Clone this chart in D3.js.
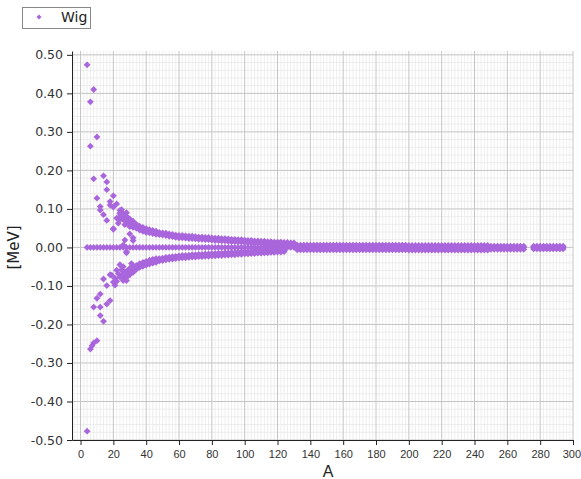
<!DOCTYPE html>
<html>
<head>
<meta charset="utf-8">
<script src="https://cdn.jsdelivr.net/npm/d3@7"></script>
<style>
  body { margin: 0; background: #fff; }
  svg { display: block; }
</style>
</head>
<body>
<div id="chart"></div>
<script>
// ---- data ----
const seriesName = 'Wig';

// scattered light nuclei
const outA = [4, 8, 6, 10, 6, 8, 14, 16, 16, 10, 12, 14, 16, 18, 18, 20, 22, 20, 22, 24, 26, 23, 27, 29, 30, 20, 25, 28, 32, 32, 26, 30, 27, 20, 12, 24,
              4, 6, 7, 8, 10, 14, 12, 8, 12, 10, 12, 16, 18, 14, 16, 18, 21, 22, 24, 27, 28, 30, 21, 19, 28, 24, 26, 22, 20, 31, 28, 23, 25];
const outV = [0.474, 0.41, 0.378, 0.287, 0.263, 0.178, 0.186, 0.170, 0.150, 0.128, 0.106, 0.085, 0.070, 0.119, 0.110, 0.134, 0.113, 0.105, 0.076, 0.089, 0.085, 0.063, 0.059, 0.076, 0.054, 0.047, 0.098, 0.090, 0.025, 0.018, 0.006, 0.035, 0.019, 0.049, 0.097, 0.072,
              -0.477, -0.264, -0.255, -0.248, -0.242, -0.192, -0.177, -0.155, -0.155, -0.132, -0.121, -0.147, -0.138, -0.082, -0.099, -0.071, -0.080, -0.088, -0.077, -0.064, -0.086, -0.055, -0.098, -0.072, -0.014, -0.045, -0.050, -0.059, -0.090, -0.042, -0.011, -0.068, -0.058];

// nuclei sitting on 0.00
const zeroA = [4, 6, 8, 10, 12, 14, 16, 18, 20, 22, 24, 26, 28, 30, 32, 34, 36, 38, 40, 42, 44, 46, 48, 50, 52, 54, 56, 58, 60, 62,
               64, 66, 68, 70, 72, 74, 76, 78, 80, 82, 84, 86, 88, 90, 92, 94, 96, 98, 100, 102, 104, 106, 108, 110, 112, 114, 116, 118, 120, 122,
               124, 126, 128, 130, 132, 134, 136, 138, 140, 142, 144, 146, 148, 150, 152, 154, 156, 158, 160, 162, 164, 166, 168, 170, 172, 174, 176, 178, 180, 182,
               184, 186, 188, 190, 192, 194, 196, 198, 200, 202, 204, 206, 208, 210, 212, 214, 216, 218, 220, 222, 224, 226, 228, 230, 232, 234, 236, 238, 240, 242,
               244, 246, 248, 250, 252, 254, 256, 258, 260, 262, 264, 266, 268, 270, 276, 278, 280, 282, 284, 286, 288, 290, 292, 294];
const zeroLevel = 0;

// upper branch: A, outer edge, middle, inner edge
const upA   = [24, 26, 28, 30, 32, 34, 36, 38, 40, 42, 44, 46, 48, 50, 52, 54, 56, 58, 60, 62, 64, 66, 68, 70, 72, 74, 76, 78, 80, 82, 84, 86, 88, 90, 92, 94, 96, 98, 100, 102, 104, 106, 108, 110, 112, 114, 116, 118, 120, 122, 124, 126, 128, 130];
const upHi  = [0.096, 0.088, 0.080, 0.074, 0.068, 0.060, 0.055, 0.052, 0.049, 0.046, 0.044, 0.042, 0.039, 0.038, 0.037, 0.035, 0.034, 0.032, 0.031, 0.031, 0.030, 0.029, 0.029, 0.028, 0.027, 0.027, 0.026, 0.026, 0.025, 0.024, 0.024, 0.023, 0.023, 0.022, 0.021, 0.021, 0.020, 0.020, 0.019, 0.018, 0.018, 0.017, 0.017, 0.016, 0.016, 0.015, 0.015, 0.014, 0.014, 0.014, 0.013, 0.013, 0.012, 0.012];
const upMid = [0.088, 0.080, 0.072, 0.066, 0.060, 0.055, 0.050, 0.047, 0.044, 0.042, 0.040, 0.038, 0.036, 0.035, 0.034, 0.032, 0.031, 0.029, 0.028, 0.028, 0.027, 0.026, 0.026, 0.025, 0.024, 0.024, 0.023, 0.023, 0.022, 0.021, 0.021, 0.020, 0.020, 0.019, 0.018, 0.018, 0.017, 0.017, 0.016, 0.015, 0.015, 0.014, 0.014, 0.013, 0.013, 0.012, 0.012, 0.011, 0.011, 0.011, 0.010, 0.010, 0.009, 0.009];
const upLo  = [0.080, 0.072, 0.064, 0.058, 0.052, 0.050, 0.045, 0.042, 0.039, 0.038, 0.036, 0.034, 0.033, 0.032, 0.031, 0.029, 0.028, 0.026, 0.025, 0.025, 0.024, 0.023, 0.023, 0.022, 0.021, 0.021, 0.020, 0.020, 0.019, 0.018, 0.018, 0.017, 0.017, 0.016, 0.015, 0.015, 0.014, 0.014, 0.013, 0.012, 0.012, 0.011, 0.011, 0.010, 0.010, 0.009, 0.009, 0.008, 0.008, 0.008, 0.007, 0.007, 0.006, 0.006];

// lower branch: A, inner edge, middle, outer edge
const dnA   = [26, 28, 30, 32, 34, 36, 38, 40, 42, 44, 46, 48, 50, 52, 54, 56, 58, 60, 62, 64, 66, 68, 70, 72, 74, 76, 78, 80, 82, 84, 86, 88, 90, 92, 94, 96, 98, 100, 102, 104, 106, 108, 110, 112, 114, 116, 118, 120, 122, 124];
const dnHi  = [-0.070, -0.062, -0.055, -0.049, -0.047, -0.042, -0.039, -0.036, -0.033, -0.031, -0.029, -0.029, -0.028, -0.026, -0.025, -0.024, -0.023, -0.022, -0.021, -0.021, -0.020, -0.019, -0.019, -0.018, -0.018, -0.017, -0.017, -0.016, -0.016, -0.015, -0.015, -0.014, -0.014, -0.013, -0.013, -0.012, -0.012, -0.011, -0.011, -0.010, -0.010, -0.009, -0.009, -0.008, -0.008, -0.007, -0.007, -0.006, -0.006, -0.005];
const dnMid = [-0.078, -0.070, -0.063, -0.057, -0.052, -0.047, -0.044, -0.041, -0.038, -0.036, -0.034, -0.032, -0.031, -0.029, -0.028, -0.027, -0.026, -0.025, -0.024, -0.024, -0.023, -0.022, -0.022, -0.021, -0.021, -0.020, -0.020, -0.019, -0.019, -0.018, -0.018, -0.017, -0.017, -0.016, -0.016, -0.015, -0.015, -0.014, -0.014, -0.013, -0.013, -0.012, -0.012, -0.011, -0.011, -0.010, -0.010, -0.009, -0.009, -0.008];
const dnLo  = [-0.086, -0.078, -0.071, -0.065, -0.057, -0.052, -0.049, -0.046, -0.043, -0.041, -0.039, -0.035, -0.034, -0.032, -0.031, -0.030, -0.029, -0.028, -0.027, -0.027, -0.026, -0.025, -0.025, -0.024, -0.024, -0.023, -0.023, -0.022, -0.022, -0.021, -0.021, -0.020, -0.020, -0.019, -0.019, -0.018, -0.018, -0.017, -0.017, -0.016, -0.016, -0.015, -0.015, -0.014, -0.014, -0.013, -0.013, -0.012, -0.012, -0.011];

// merged band of heavy nuclei: A, top edge, bottom edge
const bandA  = [132, 134, 136, 138, 140, 142, 144, 146, 148, 150, 152, 154, 156, 158, 160, 162, 164, 166, 168, 170,
                172, 174, 176, 178, 180, 182, 184, 186, 188, 190, 192, 194, 196, 198, 200, 202, 204, 206, 208, 210,
                212, 214, 216, 218, 220, 222, 224, 226, 228, 230, 232, 234, 236, 238, 240, 242, 244, 246, 248, 250,
                252, 254, 256, 258, 260, 262, 264, 266, 268, 270, 276, 278, 280, 282, 284, 286, 288, 290, 292, 294];
const bandHi = [0.006, 0.006, 0.006, 0.006, 0.006, 0.006, 0.006, 0.006, 0.006, 0.006, 0.006, 0.006, 0.006, 0.006, 0.006, 0.006, 0.006, 0.006, 0.006, 0.006,
                0.006, 0.006, 0.006, 0.006, 0.006, 0.006, 0.006, 0.006, 0.006, 0.006, 0.006, 0.006, 0.006, 0.006, 0.005, 0.005, 0.005, 0.005, 0.005, 0.005,
                0.005, 0.005, 0.005, 0.005, 0.005, 0.005, 0.005, 0.005, 0.005, 0.005, 0.005, 0.005, 0.005, 0.005, 0.005, 0.005, 0.005, 0.005, 0.005, 0.003,
                0.003, 0.003, 0.003, 0.003, 0.003, 0.003, 0.003, 0.003, 0.003, 0.003, 0.003, 0.003, 0.003, 0.003, 0.003, 0.003, 0.003, 0.003, 0.003, 0.003];
const bandLo = [-0.006, -0.006, -0.006, -0.006, -0.006, -0.006, -0.006, -0.006, -0.006, -0.006, -0.006, -0.006, -0.006, -0.006, -0.006, -0.006, -0.006, -0.006, -0.006, -0.006,
                -0.006, -0.006, -0.006, -0.006, -0.006, -0.006, -0.006, -0.006, -0.006, -0.006, -0.006, -0.006, -0.006, -0.006, -0.007, -0.007, -0.007, -0.007, -0.007, -0.007,
                -0.007, -0.007, -0.007, -0.007, -0.007, -0.007, -0.007, -0.007, -0.007, -0.007, -0.007, -0.007, -0.007, -0.007, -0.007, -0.007, -0.007, -0.007, -0.007, -0.005,
                -0.005, -0.005, -0.005, -0.005, -0.005, -0.005, -0.005, -0.005, -0.005, -0.005, -0.004, -0.004, -0.004, -0.004, -0.004, -0.004, -0.004, -0.004, -0.004, -0.004];

// axis ticks
const xMajor = [0, 20, 40, 60, 80, 100, 120, 140, 160, 180, 200, 220, 240, 260, 280, 300];
const yMajor = [-0.5, -0.4, -0.3, -0.2, -0.1, 0, 0.1, 0.2, 0.3, 0.4, 0.5];

// ---- layout ----
const W = 581, H = 479;
const COLOR = '#a966dc';

const x = d3.scaleLinear().domain([-5.2, 300]).range([72, 573]);
const y = d3.scaleLinear().domain([-0.5, 0.51]).range([440, 51]);

const xMinor = d3.range(-4, 301, 2).filter(d => d % 20 !== 0);
const yMinor = d3.range(-50, 52, 2).filter(d => d % 10 !== 0).map(d => d / 100);

const svg = d3.select('#chart').append('svg')
    .attr('width', W)
    .attr('height', H);

// grid
const grid = svg.append('g');
grid.selectAll('.vminor').data(xMinor).enter().append('line')
    .attr('x1', d => x(d)).attr('x2', d => x(d))
    .attr('y1', y(0.51)).attr('y2', y(-0.5))
    .attr('stroke', '#e6e6e6').attr('stroke-width', 0.7);
grid.selectAll('.hminor').data(yMinor).enter().append('line')
    .attr('x1', x(-5.2)).attr('x2', x(300))
    .attr('y1', d => y(d)).attr('y2', d => y(d))
    .attr('stroke', '#e6e6e6').attr('stroke-width', 0.7);
grid.selectAll('.vmajor').data(xMajor).enter().append('line')
    .attr('x1', d => x(d)).attr('x2', d => x(d))
    .attr('y1', y(0.51)).attr('y2', y(-0.5))
    .attr('stroke', '#c4c4c4').attr('stroke-width', 1);
grid.selectAll('.hmajor').data(yMajor).enter().append('line')
    .attr('x1', x(-5.2)).attr('x2', x(300))
    .attr('y1', d => y(d)).attr('y2', d => y(d))
    .attr('stroke', '#c4c4c4').attr('stroke-width', 1);

// points
const points = [];
const add = (a, v) => { if (a !== undefined && v !== undefined) points.push({ a, v }); };
outA.forEach((a, i) => add(a, outV[i]));
zeroA.forEach(a => add(a, zeroLevel));
upA.forEach((a, i) => { add(a, upHi[i]); add(a, upMid[i]); add(a, upLo[i]); });
dnA.forEach((a, i) => { add(a, dnHi[i]); add(a, dnMid[i]); add(a, dnLo[i]); });
bandA.forEach((a, i) => { add(a, bandHi[i]); add(a, bandLo[i]); });

const R = 3.4;
const diamond = `M0,${-R}L${R},0L0,${R}L${-R},0Z`;

svg.append('g').selectAll('path')
    .data(points)
    .enter().append('path')
    .attr('d', diamond)
    .attr('transform', d => `translate(${x(d.a)},${y(d.v)})`)
    .attr('fill', COLOR);

// axes
const xAxis = d3.axisBottom(x).tickValues(xMajor).tickSize(5).tickSizeOuter(0).tickPadding(5).tickFormat(d3.format('d'));
const xAxisMinor = d3.axisBottom(x).tickValues(xMinor).tickSize(3).tickSizeOuter(0).tickFormat('');
const yAxis = d3.axisLeft(y).tickValues(yMajor).tickSize(5).tickSizeOuter(0).tickPadding(4).tickFormat(d => d.toFixed(2));
const yAxisMinor = d3.axisLeft(y).tickValues(yMinor).tickSize(3).tickSizeOuter(0).tickFormat('');

const gx = svg.append('g').attr('transform', `translate(0,${y(-0.5)})`);
gx.call(xAxisMinor);
gx.call(xAxis);
const gy = svg.append('g').attr('transform', `translate(${x(-5.2)},0)`);
gy.call(yAxisMinor);
gy.call(yAxis);

svg.selectAll('.domain, .tick line').attr('stroke', '#222');
gx.selectAll('text').attr('font-family', 'Liberation Sans, Arial, sans-serif').attr('font-size', 11).attr('fill', '#333');
// last label sits against the right edge of the page
gx.selectAll('.tick').filter(d => d === 300).select('text')
    .attr('text-anchor', 'end').attr('x', 7.5);
gy.selectAll('text').attr('font-family', 'DejaVu Sans, sans-serif').attr('font-size', 12.5).attr('fill', '#333');

// axis titles
svg.append('text')
    .attr('x', 328)
    .attr('y', 477)
    .attr('text-anchor', 'middle')
    .attr('font-family', 'Liberation Sans, Arial, sans-serif')
    .attr('font-size', 16)
    .attr('fill', '#222')
    .text('A');

svg.append('text')
    .attr('transform', `translate(19,${y(0)}) rotate(-90)`)
    .attr('text-anchor', 'middle')
    .attr('font-family', 'DejaVu Sans, sans-serif')
    .attr('font-size', 15)
    .attr('fill', '#222')
    .text('[MeV]');

// legend
const legend = svg.append('g');
legend.append('rect')
    .attr('x', 22.5).attr('y', 7.5)
    .attr('width', 68).attr('height', 21)
    .attr('fill', '#fff')
    .attr('stroke', '#888');
legend.append('path')
    .attr('d', `M0,-2.5L2.5,0L0,2.5L-2.5,0Z`)
    .attr('transform', 'translate(39,17)')
    .attr('fill', COLOR);
legend.append('text')
    .attr('x', 61)
    .attr('y', 22)
    .attr('font-family', 'DejaVu Sans, sans-serif')
    .attr('font-size', 14)
    .attr('fill', '#222')
    .text(seriesName);
</script>
</body>
</html>
